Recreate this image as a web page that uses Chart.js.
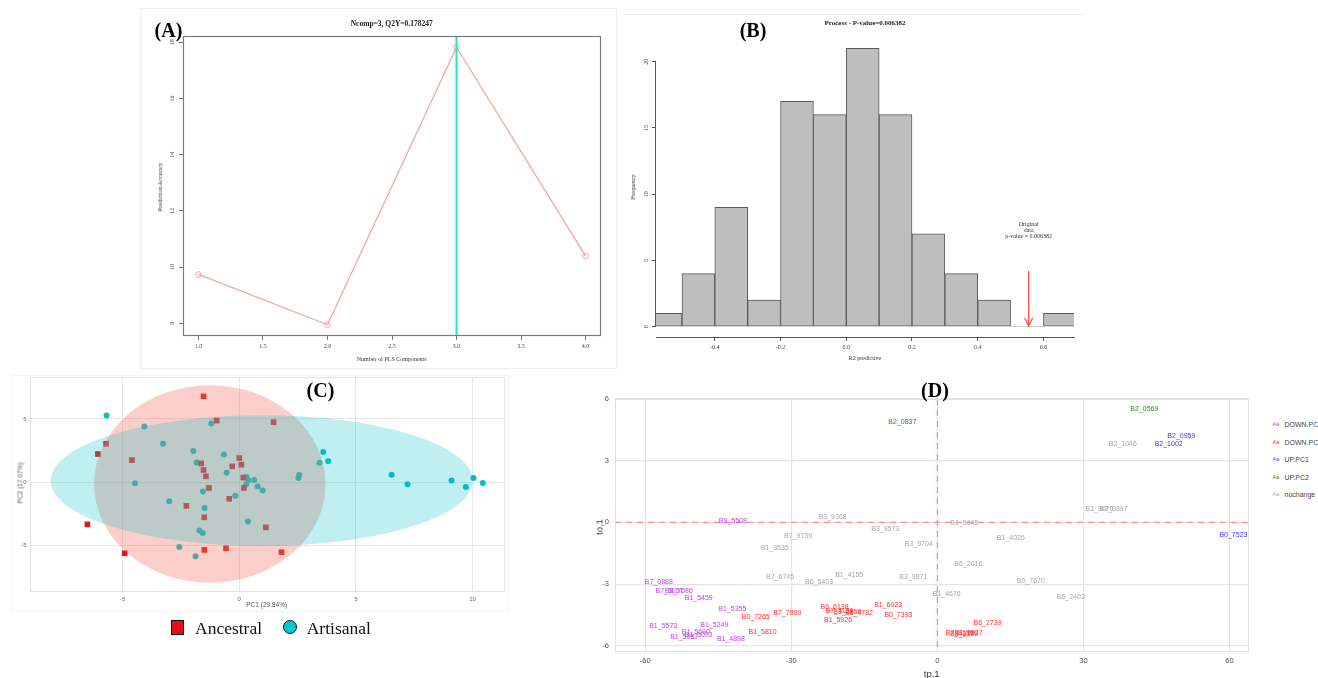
<!DOCTYPE html>
<html><head><meta charset="utf-8">
<script src="https://cdn.jsdelivr.net/npm/chart.js@4.4.1/dist/chart.umd.min.js"></script>
<style>
html,body{margin:0;padding:0;background:#fff;}
#wrap{position:relative;width:1318px;height:678px;overflow:hidden;background:#fff;}
canvas{position:absolute;}
.t{position:absolute;white-space:nowrap;line-height:1;}
.frame{position:absolute;border:1px solid #efefef;box-sizing:border-box;}
</style></head><body>
<div id="wrap">
  <div class="frame" style="left:140px;top:8px;width:477px;height:361px"></div>
  <div class="frame" style="left:620px;top:14px;width:466px;height:1px;border-width:1px 0 0 0"></div>
  <div class="frame" style="left:11px;top:375px;width:498px;height:237px;border-color:#f3f3f3"></div>
  <canvas id="cA" width="476" height="360" style="left:140px;top:10px"></canvas>
  <canvas id="cB" width="470" height="360" style="left:620px;top:10px"></canvas>
  <canvas id="cC" width="520" height="245" style="left:0px;top:370px"></canvas>
  <canvas id="cD" width="670" height="295" style="left:590px;top:385px"></canvas>
</div>
<script>
// ================= DATA =================
// (A) PLS component selection
const plsComponents = [1, 2, 3, 4];
const predictionAccuracy = [9.74, 7.95, 17.82, 10.40];
const bestNcomp = 3;
const xTicksA = [1.0, 1.5, 2.0, 2.5, 3.0, 3.5, 4.0];
const yTicksA = [8, 10, 12, 14, 16, 18];

// (B) permutation histogram
const binCentersB = [-0.55, -0.45, -0.35, -0.25, -0.15, -0.05, 0.05, 0.15, 0.25, 0.35, 0.45, 0.55, 0.65];
const binCountsB  = [1, 4, 9, 2, 17, 16, 21, 16, 7, 4, 2, 0, 1];
const originalR2 = 0.555;
const xTicksB = [-0.4, -0.2, 0.0, 0.2, 0.4, 0.6];
const yTicksB = [0, 5, 10, 15, 20];

// (C) PCA scores
const ancestralPC1 = [-1.53,-0.97,1.47,-5.71,-6.06,-4.6,-1.63,-1.53,-1.43,-1.3,0,0.09,-0.3,0.17,0.2,-0.43,-2.27,-1.5,-6.51,1.14,-4.91,-1.5,-0.57,1.81];
const ancestralPC2 = [6.78,4.87,4.74,3.04,2.23,1.75,1.49,0.97,0.47,-0.45,1.91,1.39,1.26,0.37,-0.45,-1.31,-1.86,-2.77,-3.32,-3.56,-5.6,-5.34,-5.21,-5.52];
const artisanalPC1 = [-5.69,-4.07,-3.27,-1.2,-1.97,-1.83,-0.66,-0.54,-4.47,-3.0,-1.56,-1.49,-0.17,0.31,0.39,0.3,0.64,0.79,1.0,0.37,-1.71,-1.57,-2.57,-1.87,2.53,2.57,3.44,3.6,3.81,6.53,7.21,9.1,9.71,10.04,10.44];
const artisanalPC2 = [5.26,4.4,3.04,4.63,2.46,1.57,2.2,0.76,-0.08,-1.49,-0.73,-2.04,-1.07,0.42,0.16,-0.16,0.18,-0.34,-0.65,-3.09,-3.8,-4.0,-5.1,-5.84,0.34,0.58,1.54,2.38,1.65,0.6,-0.16,0.13,-0.37,0.34,-0.05];
const ellipseCenterPC1 = [-1.26, 0.96];   // Ancestral, Artisanal
const ellipseCenterPC2 = [-0.14, 0.13];
const ellipseRadiusPC1 = [4.96, 9.04];
const ellipseRadiusPC2 = [7.79, 5.16];
const xTicksC = [-5, 0, 5, 10];
const yTicksC = [-5, 0, 5];

// (D) OPLS loadings labels
const downPC1Labels = ['B9_5508','B7_0888','B7_5057','B8_7086','B1_5459','B1_5355','B1_5573','B1_5249','B1_5690','B1_5093','B1_5037','B1_4898'];
const downPC1X = [-42.0,-57.2,-55.0,-53.1,-49.0,-42.1,-56.3,-45.8,-49.6,-49.0,-52.0,-42.4];
const downPC1Y = [0.08,-2.88,-3.32,-3.32,-3.69,-4.22,-5.02,-4.99,-5.34,-5.47,-5.55,-5.67];
const downPC2Labels = ['B0_7265','B7_7800','B1_5810','B6_6138','B7_4129','B3_2856','B1_4782','B1_5926','B1_6023','B0_7393','B6_2739','B7_8199','B8_3189','B1_1927'];
const downPC2X = [-37.3,-30.8,-35.9,-21.1,-20.1,-18.5,-16.1,-20.4,-10.1,-8.0,10.3,4.56,5.49,6.41];
const downPC2Y = [-4.58,-4.39,-5.34,-4.13,-4.29,-4.34,-4.4,-4.74,-4.01,-4.5,-4.9,-5.36,-5.42,-5.4];
const upPC1Labels = ['B2_0959','B2_1002','B0_7523'];
const upPC1X = [50.1, 47.5, 60.8];
const upPC1Y = [4.2, 3.79, -0.63];
const upPC2Labels = ['B2_0837','B2_0569'];
const upPC2X = [-7.19, 42.5];
const upPC2Y = [4.88, 5.49];
const noChangeLabels = ['B3_9368','B7_9739','B3_9573','B1_3535','B3_9704','B6_2016','B7_6745','B6_5403','B1_4155','B3_9871','B1_4676','B1_5645','B2_1046','B1_3070','B2_0897','B1_4026','B0_7670','B6_2403'];
const noChangeX = [-21.5,-28.6,-10.7,-33.4,-3.82,6.37,-32.3,-24.3,-18.1,-4.93,1.93,5.55,38.1,33.3,36.2,15.1,19.2,27.4];
const noChangeY = [0.24,-0.65,-0.33,-1.26,-1.05,-2.02,-2.66,-2.9,-2.54,-2.66,-3.5,-0.05,3.79,0.63,0.63,-0.76,-2.85,-3.63];
const groupNamesD = ['DOWN.PC1','DOWN.PC2','UP.PC1','UP.PC2','nochange'];
const xTicksD = [-60, -30, 0, 30, 60];
const yTicksD = [-6, -3, 0, 3, 6];

// ================= HELPERS =================
const SERIF = '"Liberation Serif","Times New Roman",serif';
const SANS = '"Liberation Sans",Arial,sans-serif';
Chart.defaults.animation = false;
Chart.defaults.plugins.legend.display = false;
Chart.defaults.plugins.tooltip.enabled = false;
const wrap = document.getElementById('wrap');
function txt(s, x, y, css, opt) {
  opt = opt || {};
  const d = document.createElement('div');
  d.className = 't';
  d.textContent = s;
  const tx = opt.left ? '0' : '-50%';
  d.style.cssText = `left:${x}px;top:${y}px;transform:translate(${tx},-50%)${opt.rot ? ' rotate(-90deg)' : ''};` + css;
  wrap.appendChild(d);
  return d;
}
const fixW = w => s => { s.width = w; };
const fixH = h => s => { s.height = h; };
const setTicks = arr => s => { s.ticks = arr.map(v => ({ value: v })); };
const pts = (xs, ys) => xs.map((x, i) => ({ x: x, y: ys[i] }));
const base = { responsive: false, animation: false, devicePixelRatio: 1 };

function rotYLabels(offset, font, color) {
  return { id: 'rotY', afterDraw(chart) {
    const ys = chart.scales.y, ctx = chart.ctx;
    ctx.save(); ctx.fillStyle = color; ctx.font = font; ctx.textAlign = 'center'; ctx.textBaseline = 'middle';
    ys.ticks.forEach(t => {
      const y = ys.getPixelForValue(t.value);
      ctx.save(); ctx.translate(chart.chartArea.left - offset, y); ctx.rotate(-Math.PI / 2);
      ctx.fillText(String(t.value), 0, 0); ctx.restore();
    });
    ctx.restore();
  }};
}
function boxPlugin(color, lw) {
  return { id: 'box', afterDraw(chart) {
    const a = chart.chartArea, ctx = chart.ctx;
    ctx.save(); ctx.strokeStyle = color; ctx.lineWidth = lw;
    ctx.strokeRect(a.left + 0.5, a.top + 0.5, a.right - a.left - 1, a.bottom - a.top - 1); ctx.restore();
  }};
}

// ================= (A) =================
new Chart(document.getElementById('cA'), {
  type: 'line',
  data: { datasets: [{
    data: pts(plsComponents, predictionAccuracy),
    borderColor: '#f6a3a3', borderWidth: 1.3, tension: 0,
    pointRadius: 2.8, pointBorderWidth: 1, pointBorderColor: '#f6a3a3', pointBackgroundColor: 'rgba(255,255,255,0)'
  }]},
  options: Object.assign({}, base, {
    layout: { padding: { left: 0, top: 26, right: 15, bottom: 0 } },
    scales: {
      x: { type: 'linear', min: 0.88, max: 4.12, afterBuildTicks: setTicks(xTicksA), afterFit: fixH(34),
           grid: { drawOnChartArea: false, drawTicks: true, tickLength: 4, color: '#777' }, border: { display: false },
           ticks: { font: { family: SERIF, size: 6 }, color: '#444', padding: 3, maxRotation: 0, autoSkip: false, callback: v => v.toFixed(1) } },
      y: { type: 'linear', min: 7.55, max: 18.22, afterBuildTicks: setTicks(yTicksA), afterFit: fixW(43),
           grid: { drawOnChartArea: false, drawTicks: true, tickLength: 4, color: '#777' }, border: { display: false },
           ticks: { display: false } }
    }
  }),
  plugins: [boxPlugin('#7a7a7a', 1.2), rotYLabels(10.7, '6px ' + SERIF, '#444'), {
    id: 'ncompLine', afterDatasetsDraw(chart) {
      const xs = chart.scales.x, a = chart.chartArea, ctx = chart.ctx;
      const x = xs.getPixelForValue(bestNcomp);
      ctx.save(); ctx.strokeStyle = '#1fe6cc'; ctx.lineWidth = 2;
      ctx.beginPath(); ctx.moveTo(x, a.top); ctx.lineTo(x, a.bottom); ctx.stroke(); ctx.restore();
    }
  }]
});
txt('(A)', 168.5, 30, `font:bold 20px ${SERIF};color:#000;`);
txt('Ncomp=3, Q2Y=0.178247', 391.7, 22.7, `font:bold 7.5px ${SERIF};color:#222;`);
txt('Prediction Accuracy', 160, 186.7, `font:6px ${SERIF};color:#333;`, { rot: true });
txt('Number of PLS Components', 391.7, 359, `font:6px ${SERIF};color:#333;`);

// ================= (B) =================
new Chart(document.getElementById('cB'), {
  type: 'bar',
  data: { datasets: [{
    data: pts(binCentersB, binCountsB),
    backgroundColor: '#bebebe', borderColor: '#5a5a5a',
    borderWidth: c => (binCountsB[c.dataIndex] ? 1 : 0), borderSkipped: false,
    barPercentage: 1, categoryPercentage: 1, clip: 0
  }]},
  options: Object.assign({}, base, {
    layout: { padding: { left: 0, top: 27, right: 16, bottom: 0 } },
    scales: {
      x: { type: 'linear', offset: false, min: -0.579, max: 0.693, afterBuildTicks: setTicks(xTicksB), afterFit: fixH(33),
           grid: { offset: false, drawOnChartArea: false, drawTicks: true, tickLength: 4, color: '#555' },
           border: { display: true, color: '#555', width: 1 },
           ticks: { font: { family: SERIF, size: 6 }, color: '#444', padding: 3, maxRotation: 0, autoSkip: false, callback: v => v.toFixed(1) } },
      y: { type: 'linear', min: -0.78, max: 21.86, afterBuildTicks: setTicks(yTicksB), afterFit: fixW(36),
           grid: { drawOnChartArea: false, drawTicks: true, tickLength: 4, color: '#555' }, border: { display: false },
           ticks: { display: false } }
    }
  }),
  plugins: [rotYLabels(10, '6px ' + SERIF, '#444'), {
    id: 'yAxisLine', afterDraw(chart) {
      const ys = chart.scales.y, a = chart.chartArea, ctx = chart.ctx;
      ctx.save(); ctx.strokeStyle = '#555'; ctx.lineWidth = 1;
      ctx.beginPath(); ctx.moveTo(a.left - 0.5, ys.getPixelForValue(yTicksB[0])); ctx.lineTo(a.left - 0.5, ys.getPixelForValue(yTicksB[yTicksB.length - 1])); ctx.stroke();
      ctx.restore();
    }
  }, {
    id: 'origArrow', afterDatasetsDraw(chart) {
      const xs = chart.scales.x, ys = chart.scales.y, ctx = chart.ctx;
      const x = xs.getPixelForValue(originalR2);
      const y0 = ys.getPixelForValue(4.2), y1 = ys.getPixelForValue(0.05);
      ctx.save(); ctx.strokeStyle = '#ff3b3b'; ctx.lineWidth = 1.1;
      ctx.beginPath(); ctx.moveTo(x, y0); ctx.lineTo(x, y1);
      ctx.moveTo(x - 4, y1 - 8); ctx.lineTo(x, y1); ctx.lineTo(x + 4, y1 - 8); ctx.stroke();
      ctx.fillStyle = '#333'; ctx.font = '6px ' + SERIF; ctx.textAlign = 'center'; ctx.textBaseline = 'middle';
      ctx.fillText('Original', x, ys.getPixelForValue(7.74));
      ctx.fillText('data', x, ys.getPixelForValue(7.28));
      ctx.fillText('p-value = 0.006382', x, ys.getPixelForValue(6.8));
      ctx.restore();
    }
  }]
});
txt('(B)', 753, 30, `font:bold 20px ${SERIF};color:#000;`);
txt('Process - P-value=0.006382', 865, 23.3, `font:bold 7px ${SERIF};color:#222;`);
txt('Frequency', 633.3, 186.7, `font:6px ${SERIF};color:#333;`, { rot: true });
txt('R2 predictive', 865, 358, `font:6px ${SERIF};color:#333;`);

// ================= (C) =================
const ellipseFills = ['rgba(248,118,109,0.36)', 'rgba(0,191,196,0.25)'];
new Chart(document.getElementById('cC'), {
  type: 'scatter',
  data: { datasets: [
    { label: 'Ancestral', data: pts(ancestralPC1, ancestralPC2), pointStyle: 'rect', pointRadius: 4, backgroundColor: '#e3151d', borderWidth: 0 },
    { label: 'Artisanal', data: pts(artisanalPC1, artisanalPC2), pointStyle: 'circle', pointRadius: 3, backgroundColor: '#00bfc3', borderWidth: 0 }
  ]},
  options: Object.assign({}, base, {
    layout: { padding: { left: 0, top: 6, right: 15, bottom: 0 } },
    scales: {
      x: { type: 'linear', min: -8.97, max: 11.39, afterBuildTicks: setTicks(xTicksC), afterFit: fixH(23),
           grid: { color: '#e7e7e7', lineWidth: 1, drawTicks: false }, border: { display: false },
           ticks: { font: { family: SANS, size: 6 }, color: '#666', padding: 4, maxRotation: 0, autoSkip: false } },
      y: { type: 'linear', min: -8.66, max: 8.3, afterBuildTicks: setTicks(yTicksC), afterFit: fixW(30),
           grid: { color: '#e7e7e7', lineWidth: 1, drawTicks: false }, border: { display: false },
           ticks: { font: { family: SANS, size: 6 }, color: '#666', padding: 3.5 } }
    }
  }),
  plugins: [boxPlugin('#e2e2e2', 1), {
    id: 'ellipses', afterDatasetsDraw(chart) {
      const xs = chart.scales.x, ys = chart.scales.y, a = chart.chartArea, ctx = chart.ctx;
      ctx.save(); ctx.beginPath(); ctx.rect(a.left, a.top, a.right - a.left, a.bottom - a.top); ctx.clip();
      ellipseCenterPC1.forEach((cx, i) => {
        const px = xs.getPixelForValue(cx), py = ys.getPixelForValue(ellipseCenterPC2[i]);
        const rx = Math.abs(xs.getPixelForValue(cx + ellipseRadiusPC1[i]) - px);
        const ry = Math.abs(ys.getPixelForValue(ellipseCenterPC2[i] + ellipseRadiusPC2[i]) - py);
        ctx.beginPath(); ctx.ellipse(px, py, rx, ry, 0, 0, Math.PI * 2);
        ctx.fillStyle = ellipseFills[i]; ctx.fill();
      });
      ctx.restore();
    }
  }]
});
txt('(C)', 320.5, 389.5, `font:bold 20px ${SERIF};color:#000;`);
txt('PC1 (29.84%)', 266.7, 604.3, `font:6.5px ${SANS};color:#555;`);
txt('PC2 (17.07%)', 20, 483, `font:6.5px ${SANS};color:#555;`, { rot: true });
(function () {
  const sq = document.createElement('div');
  sq.style.cssText = 'position:absolute;left:171px;top:620px;width:13px;height:15px;background:#e3101a;border:1.5px solid #111;box-sizing:border-box;';
  wrap.appendChild(sq);
  const ci = document.createElement('div');
  ci.style.cssText = 'position:absolute;left:282.7px;top:620px;width:14px;height:14px;border-radius:50%;background:#00c8d2;border:1.5px solid #123;box-sizing:border-box;';
  wrap.appendChild(ci);
})();
txt('Ancestral', 195, 628, `font:17.5px ${SERIF};color:#111;`, { left: true });
txt('Artisanal', 306.7, 628, `font:17.5px ${SERIF};color:#111;`, { left: true });

// ================= (D) =================
const groupColorsD = ['#bd3ff0', '#ff2e2e', '#3c3cff', '#2a8a2a', '#a8a8a8'];
const groupsD = [
  [downPC1Labels, downPC1X, downPC1Y],
  [downPC2Labels, downPC2X, downPC2Y],
  [upPC1Labels, upPC1X, upPC1Y],
  [upPC2Labels, upPC2X, upPC2Y],
  [noChangeLabels, noChangeX, noChangeY]
];
new Chart(document.getElementById('cD'), {
  type: 'scatter',
  data: { datasets: groupsD.map((g, i) => ({
    label: groupNamesD[i], data: pts(g[1], g[2]), pointLabels: g[0], textColor: groupColorsD[i],
    pointRadius: 0, backgroundColor: groupColorsD[i]
  })).reverse() },
  options: Object.assign({}, base, {
    layout: { padding: { left: 0, top: 14, right: 11, bottom: 0 } },
    scales: {
      x: { type: 'linear', min: -66.2, max: 64.0, afterBuildTicks: setTicks(xTicksD), afterFit: fixH(28),
           grid: { color: '#e4e4e4', lineWidth: 1.2, drawTicks: false }, border: { display: false },
           ticks: { font: { family: SANS, size: 7.5 }, color: '#555', padding: 4, maxRotation: 0, autoSkip: false } },
      y: { type: 'linear', min: -6.3, max: 6.0, afterBuildTicks: setTicks(yTicksD), afterFit: fixW(25),
           grid: { color: '#e4e4e4', lineWidth: 1.2, drawTicks: false }, border: { display: false },
           ticks: { font: { family: SANS, size: 7.5 }, color: '#555', padding: 6 } }
    }
  }),
  plugins: [boxPlugin('#e0e0e0', 1), {
    id: 'zeroLines', beforeDatasetsDraw(chart) {
      const xs = chart.scales.x, ys = chart.scales.y, a = chart.chartArea, ctx = chart.ctx;
      const x0 = xs.getPixelForValue(0), y0 = ys.getPixelForValue(0);
      ctx.save(); ctx.strokeStyle = '#ff8f8f'; ctx.lineWidth = 1.3; ctx.setLineDash([6, 5]);
      ctx.beginPath(); ctx.moveTo(x0, a.top); ctx.lineTo(x0, a.bottom); ctx.stroke();
      ctx.beginPath(); ctx.moveTo(a.left, y0); ctx.lineTo(a.right, y0); ctx.stroke();
      ctx.restore();
    }
  }, {
    id: 'pointText', afterDatasetsDraw(chart) {
      const ctx = chart.ctx;
      ctx.save(); ctx.font = '7px ' + SANS; ctx.textAlign = 'center'; ctx.textBaseline = 'middle';
      chart.data.datasets.forEach((ds, i) => {
        const meta = chart.getDatasetMeta(i);
        ctx.fillStyle = ds.textColor;
        meta.data.forEach((p, j) => ctx.fillText(ds.pointLabels[j], p.x, p.y));
      });
      ctx.restore();
    }
  }]
});
txt('(D)', 935, 390, `font:bold 20px ${SERIF};color:#000;`);
txt('tp,1', 931.7, 673, `font:9.5px ${SANS};color:#333;`);
txt('to,1', 599, 527, `font:9.5px ${SANS};color:#333;`, { rot: true });
const legendYD = [424, 442, 459, 477, 494];
groupNamesD.forEach((n, i) => {
  txt('Aa', 1272.5, legendYD[i], `font:5.5px ${SANS};color:${groupColorsD[i]};`, { left: true });
  txt(n, 1284.5, legendYD[i], `font:7px ${SANS};color:#444;`, { left: true });
});
</script>
</body></html>
